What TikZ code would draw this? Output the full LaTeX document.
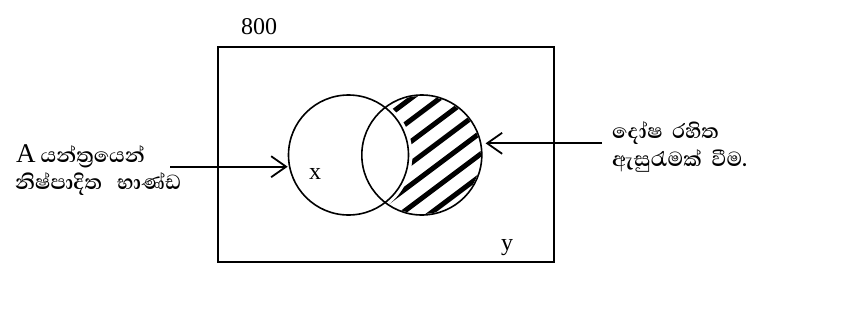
\documentclass[tikz,border=0pt]{standalone}
\usepackage{fontspec}
\setmainfont{Liberation Serif}
\newfontfamily\sinhala[Script=Sinhala]{Abhaya Libre}
\usetikzlibrary{arrows.meta, positioning, calc}
\tikzstyle{setbox}  = [rectangle, draw=black, line width=1.6pt, inner sep=0pt,
                       minimum width=336pt, minimum height=215pt]
\tikzstyle{setcirc} = [circle, draw=black, line width=1.6pt, inner sep=0pt,
                       minimum size=120pt]
\tikzstyle{arr}     = [-{Straight Barb[length=15pt, width=21pt]}, line width=1.8pt]
\tikzstyle{lbl}     = [inner sep=0pt, font=\fontsize{24}{26}\selectfont]
\tikzstyle{sinlbl}  = [inner sep=0pt, anchor=west, font=\sinhala\bfseries\fontsize{26}{28}\selectfont]
\tikzstyle{stripe}  = [line width=5pt, black]

\begin{document}
\begin{tikzpicture}[x=1pt, y=-1pt]
  \useasboundingbox (0,0) rectangle (849,322);

  \node[setbox] (univ) at (386,154.5) {};
  \node[lbl] (total) at (259,27) {800};

  \coordinate (ox) at (348.5,155);
  \coordinate (oy) at (421.8,155);

  % shaded part of y only
  \begin{scope}[even odd rule]
    \clip (oy) circle (59pt);
    \clip (ox) circle (64pt) (univ.north west) rectangle (univ.south east);
    \foreach \i in {-7,...,7}
      \draw[stripe] ($(oy)+(\i*10.4,\i*13.8)+(-90,67.5)$) -- ++(180,-135);
  \end{scope}

  \node[setcirc] (cx) at (ox) {};
  \node[setcirc] (cy) at (oy) {};
  \node[lbl] (xl) at (315,174) {x};
  \node[lbl] (yl) at (507,248) {y};

  \node[sinlbl] (src1) at (16,156) {{\rmfamily\mdseries\fontsize{27}{28}\selectfont A} යන්ත්^^^^200dරයෙන්};
  \node[sinlbl] (src2) at (15,184) {නිෂ්පාදිත\ \ \ භාණ්ඩ};
  \node[sinlbl] (good1) at (612,133) {දෝෂ\ \ රහිත};
  \node[sinlbl] (good2) at (612,161) {ඇසුරැමක්\ \ වීම.};

  \coordinate (ls) at (170,166.7);
  \coordinate (rs) at (602,143.3);
  \draw[arr] (ls) -- (ls -| cx.west);
  \draw[arr] (rs) -- ($(rs -| cy.east)+(3,0)$);
\end{tikzpicture}
\end{document}
